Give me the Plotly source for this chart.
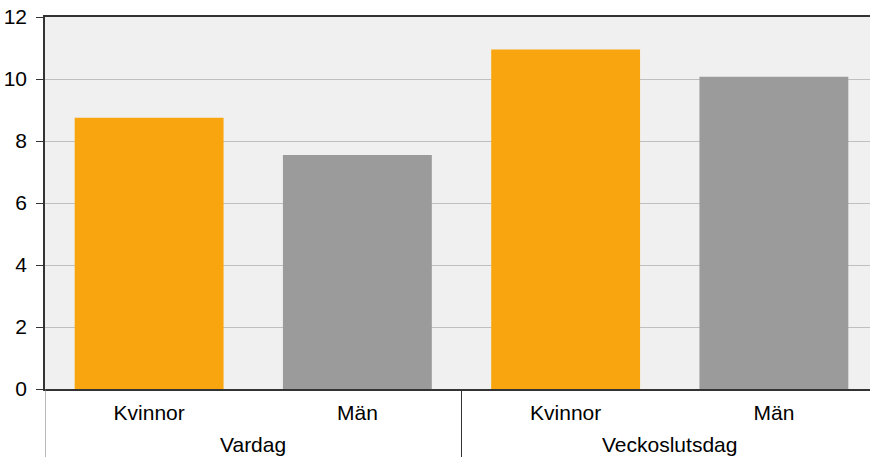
import plotly.graph_objects as go

groups = ["Vardag", "Vardag", "Veckoslutsdag", "Veckoslutsdag"]
genders = ["Kvinnor", "Män", "Kvinnor", "Män"]
values = [8.75, 7.55, 10.95, 10.07]
colors = ["#F9A510", "#9B9B9B", "#F9A510", "#9B9B9B"]
y_ticks = [0, 2, 4, 6, 8, 10, 12]

keys = [f"{g}|{s}" for g, s in zip(groups, genders)]
group_names = list(dict.fromkeys(groups))

fig = go.Figure()
fig.add_trace(go.Bar(
    x=keys,
    y=values,
    marker=dict(color=colors, line=dict(width=0)),
    showlegend=False,
    hovertext=[f"{g} – {s}" for g, s in zip(groups, genders)],
))

FS = 21
# group labels and dividers (in category index space)
for name in group_names:
    idx = [i for i, g in enumerate(groups) if g == name]
    fig.add_annotation(
        x=sum(idx) / len(idx), xref="x", y=0, yref="paper",
        text=name, showarrow=False, yanchor="middle", yshift=-55,
        font=dict(size=FS, color="black"),
    )
bounds = [-0.5] + [i + 0.5 for i in range(len(groups) - 1) if groups[i] != groups[i + 1]] + [len(groups) - 0.5]
for b in bounds:
    fig.add_shape(
        type="line", xref="x", yref="paper", x0=b, x1=b, y0=0, y1=-0.2,
        line=dict(color="#777777" if b == -0.5 else "#333333", width=1),
    )

fig.update_layout(
    width=878, height=457,
    margin=dict(l=45, r=0, t=17, b=68, autoexpand=False),
    paper_bgcolor="white",
    plot_bgcolor="#F0F0F0",
    bargap=0.285,
    font=dict(family="Liberation Sans, Arial, sans-serif", size=FS, color="black"),
)
fig.update_xaxes(
    type="category",
    range=[-0.5, len(keys) - 0.5],
    tickvals=keys, ticktext=genders,
    automargin=False,
    showline=True, linecolor="#333333", linewidth=1.5,
    mirror=True,
    ticks="", ticklabelstandoff=4,
    tickfont=dict(size=FS, color="black"),
)
fig.update_yaxes(
    automargin=False,
    range=[0, 12],
    tickvals=y_ticks,
    showgrid=True, gridcolor="#BFBFBF", gridwidth=1,
    showline=True, linecolor="#333333", linewidth=1.5,
    ticks="outside", ticklen=7, tickcolor="#333333",
    ticklabelstandoff=5,
    zeroline=False,
    tickfont=dict(size=FS, color="black"),
)

fig.write_html(
    "out.html",
    config={"displayModeBar": False},
    post_script="document.body.style.margin='0';document.body.style.padding='0';document.body.style.overflow='hidden';",
)
